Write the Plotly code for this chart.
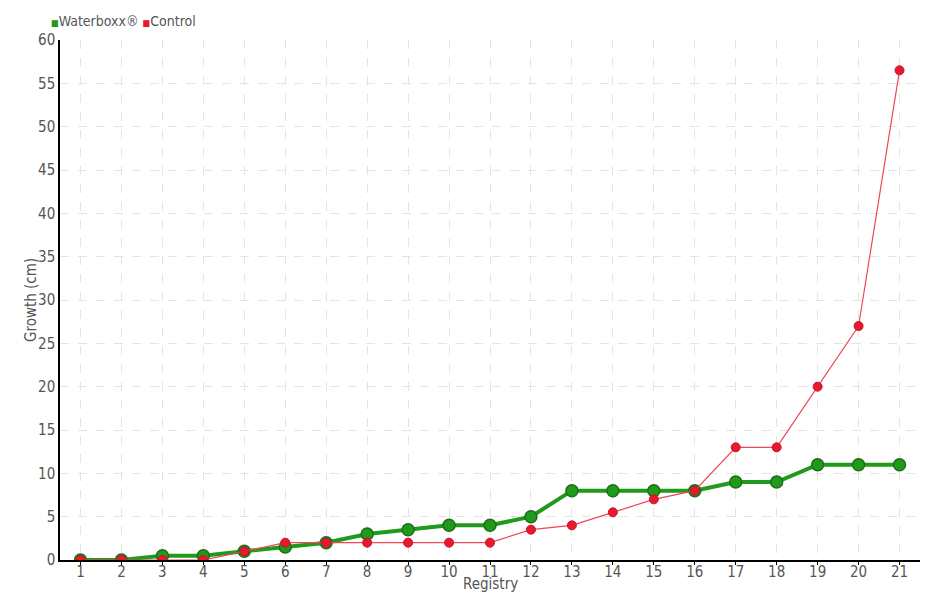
import plotly.graph_objects as go

registry = [str(i) for i in range(1, 22)]
waterboxx = [0, 0, 0.5, 0.5, 1, 1.5, 2, 3, 3.5, 4, 4, 5, 8, 8, 8, 8, 9, 9, 11, 11, 11]
control = [0, 0, 0, 0, 1, 2, 2, 2, 2, 2, 2, 3.5, 4, 5.5, 7, 8, 13, 13, 20, 27, 56.5]
y_ticks = list(range(0, 61, 5))

FONT = "Liberation Sans Narrow, DejaVu Sans Condensed, sans-serif"
GREEN = "#1f9a1a"
RED = "#e8192c"
GRAY = "#555555"

fig = go.Figure()
fig.add_trace(go.Scatter(
    x=registry, y=waterboxx, mode="lines+markers", name="Waterboxx®",
    line=dict(color=GREEN, width=4),
    marker=dict(size=12, color=GREEN, line=dict(color="#1d6e1a", width=1.5)),
    showlegend=False,
))
fig.add_trace(go.Scatter(
    x=registry, y=control, mode="lines+markers", name="Control",
    line=dict(color="#f0455a", width=1.2),
    marker=dict(size=9, color=RED, line=dict(color="#c8102a", width=1)),
    showlegend=False,
))

# legend
fig.add_annotation(
    xref="paper", yref="paper", x=-0.013, y=1.0, xanchor="left", yanchor="middle",
    yshift=19, showarrow=False, align="left",
    text=(f"<span style='color:{GREEN};font-size:9px'>■</span>Waterboxx® "
          f"<span style='color:{RED};font-size:9px'>■</span>Control"),
    font=dict(family=FONT, size=14, color=GRAY),
)
# axis titles
fig.add_annotation(
    xref="paper", yref="paper", x=0.5, y=0, xanchor="center", yanchor="middle",
    yshift=-24, showarrow=False, text="Registry",
    font=dict(family=FONT, size=15, color=GRAY),
)
fig.add_annotation(
    xref="paper", yref="paper", x=0, y=0.5, xanchor="center", yanchor="middle",
    xshift=-29, showarrow=False, text="Growth (cm)", textangle=-90,
    font=dict(family=FONT, size=15, color=GRAY),
)

fig.update_layout(
    width=940, height=600,
    margin=dict(l=52, r=28, t=32, b=48, autoexpand=False),
    plot_bgcolor="white", paper_bgcolor="white",
    font=dict(family=FONT, size=15, color=GRAY),
    showlegend=False,
    xaxis=dict(
        type="category", range=[-0.5, 20.5], automargin=False,
        showline=True, linecolor="black", linewidth=1.5,
        ticks="outside", ticklen=3, tickcolor="black",
        ticklabelstandoff=-6,
        showgrid=True, gridcolor="#e4e4e4", griddash="dash",
        tickfont=dict(size=15), zeroline=False,
    ),
    yaxis=dict(
        range=[0, 60], tickvals=y_ticks, automargin=False,
        showline=True, linecolor="black", linewidth=1.5,
        ticks="", ticklen=0,
        showgrid=True, gridcolor="#e4e4e4", griddash="dash",
        tickfont=dict(size=15), zeroline=False,
    ),
    yaxis2=dict(
        range=[0, 60], tickvals=y_ticks, automargin=False, overlaying="y",
        side="left", showline=False, showgrid=False, zeroline=False,
        ticks="outside", ticklen=5, tickcolor="black", showticklabels=False,
    ),
)
fig.write_html("out.html")
